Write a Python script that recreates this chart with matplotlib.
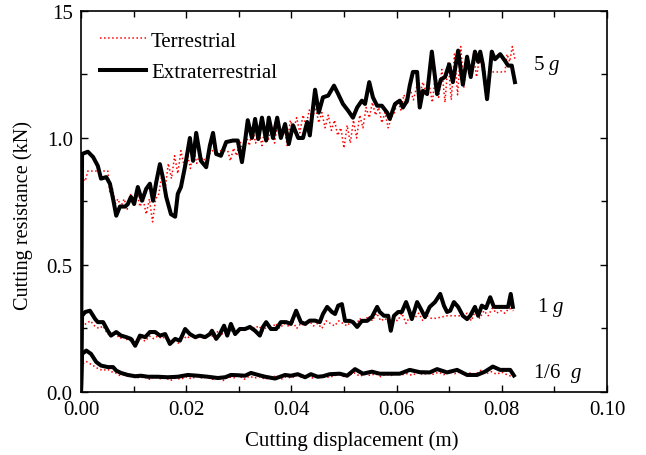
import matplotlib

matplotlib.use("Agg")
import matplotlib.pyplot as plt
from matplotlib.ticker import MultipleLocator

# Cutting displacement (m) and resistance (kN) for the three gravity levels
ext_5g_x = [0.0, 0.0002, 0.0013, 0.0023, 0.0032, 0.0038, 0.0048, 0.0055, 0.0061, 0.0067,
            0.0074, 0.0084, 0.0089, 0.0095, 0.0101, 0.0108, 0.0116, 0.0124, 0.0131, 0.0137,
            0.0143, 0.0150, 0.0156, 0.0162, 0.0171, 0.0179, 0.0184, 0.0190, 0.0198, 0.0207,
            0.0213, 0.0219, 0.0228, 0.0238, 0.0245, 0.0251, 0.0257, 0.0266, 0.0276, 0.0289,
            0.0298, 0.0306, 0.0312, 0.0317, 0.0325, 0.0331, 0.0337, 0.0344, 0.0352, 0.0357,
            0.0365, 0.0373, 0.0380, 0.0388, 0.0395, 0.0403, 0.0413, 0.0422, 0.0430, 0.0435,
            0.0445, 0.0452, 0.0460, 0.0470, 0.0481, 0.0489, 0.0498, 0.0508, 0.0517, 0.0525,
            0.0534, 0.0540, 0.0548, 0.0555, 0.0563, 0.0572, 0.0582, 0.0587, 0.0597, 0.0606,
            0.0612, 0.0620, 0.0625, 0.0631, 0.0639, 0.0644, 0.0650, 0.0658, 0.0667, 0.0677,
            0.0684, 0.0692, 0.0700, 0.0707, 0.0717, 0.0726, 0.0734, 0.0741, 0.0749, 0.0755,
            0.0759, 0.0764, 0.0772, 0.0781, 0.0787, 0.0797, 0.0806, 0.0812, 0.0819, 0.0825]
ext_5g_y = [0.0, 0.937, 0.946, 0.925, 0.89, 0.84, 0.846, 0.82, 0.76, 0.694,
            0.73, 0.73, 0.74, 0.768, 0.74, 0.807, 0.753, 0.80, 0.82, 0.753,
            0.826, 0.897, 0.84, 0.768, 0.70, 0.69, 0.78, 0.807, 0.89, 1.00,
            0.91, 1.02, 0.91, 0.885, 0.97, 1.02, 0.937, 0.93, 0.984, 0.99,
            0.99, 0.905, 0.99, 1.07, 1.00, 1.075, 0.996, 1.08, 0.99, 1.08,
            1.00, 1.08, 1.00, 1.055, 0.976, 1.05, 1.00, 1.00, 1.063, 1.01,
            1.19, 1.10, 1.16, 1.167, 1.206, 1.173, 1.134, 1.107, 1.08, 1.12,
            1.147, 1.134, 1.22, 1.16, 1.127, 1.127, 1.10, 1.075, 1.134, 1.147,
            1.12, 1.147, 1.206, 1.26, 1.26, 1.12, 1.186, 1.173, 1.34, 1.173,
            1.23, 1.24, 1.29, 1.22, 1.344, 1.21, 1.32, 1.24, 1.34, 1.30,
            1.34, 1.29, 1.153, 1.34, 1.31, 1.33, 1.304, 1.285, 1.285, 1.22]

ter_5g_x = [0.0, 0.0001, 0.0003, 0.0008, 0.0013, 0.0051, 0.0055, 0.0060, 0.0065, 0.0070,
            0.0076, 0.0082, 0.0088, 0.0094, 0.0100, 0.0106, 0.0112, 0.0118, 0.0124, 0.0130,
            0.0136, 0.0142, 0.0148, 0.0154, 0.0160, 0.0166, 0.0172, 0.0178, 0.0184, 0.0190,
            0.0196, 0.0202, 0.0208, 0.0214, 0.0220, 0.0226, 0.0232, 0.0250, 0.0279, 0.0284,
            0.0290, 0.0296, 0.0302, 0.0308, 0.0314, 0.0320, 0.0326, 0.0332, 0.0338, 0.0344,
            0.0350, 0.0356, 0.0362, 0.0368, 0.0374, 0.0380, 0.0386, 0.0392, 0.0398, 0.0404,
            0.0410, 0.0416, 0.0422, 0.0428, 0.0434, 0.0440, 0.0446, 0.0452, 0.0458, 0.0464,
            0.0470, 0.0476, 0.0482, 0.0488, 0.0494, 0.0500, 0.0506, 0.0512, 0.0518, 0.0524,
            0.0530, 0.0536, 0.0542, 0.0548, 0.0554, 0.0560, 0.0566, 0.0572, 0.0578, 0.0584,
            0.0590, 0.0596, 0.0602, 0.0608, 0.0614, 0.0620, 0.0626, 0.0632, 0.0638, 0.0644,
            0.0650, 0.0656, 0.0662, 0.0668, 0.0674, 0.0680, 0.0686, 0.0692, 0.0698, 0.0704,
            0.0710, 0.0716, 0.0722, 0.0728, 0.0734, 0.0740, 0.0746, 0.0752, 0.0758, 0.0764,
            0.0772, 0.0806, 0.0810, 0.0815, 0.0820, 0.0825]
ter_5g_y = [0.0, 0.55, 0.84, 0.83, 0.87, 0.87, 0.78, 0.80, 0.74, 0.76,
            0.73, 0.76, 0.72, 0.78, 0.74, 0.79, 0.73, 0.76, 0.70, 0.76,
            0.67, 0.76, 0.78, 0.86, 0.80, 0.90, 0.84, 0.93, 0.86, 0.95,
            0.89, 0.94, 0.88, 0.96, 0.90, 0.94, 0.91, 0.95, 0.95, 0.91,
            0.96, 0.93, 0.99, 0.95, 1.01, 0.97, 1.04, 0.98, 1.03, 0.97,
            1.04, 0.99, 1.05, 0.98, 1.06, 1.01, 1.05, 0.97, 1.07, 1.03,
            1.08, 1.02, 1.09, 1.05, 1.11, 1.08, 1.12, 1.06, 1.10, 1.04,
            1.09, 1.03, 1.07, 1.01, 1.04, 0.96, 1.05, 0.98, 1.07, 1.00,
            1.09, 1.04, 1.12, 1.08, 1.14, 1.09, 1.12, 1.06, 1.10, 1.04,
            1.08, 1.10, 1.15, 1.11, 1.17, 1.13, 1.19, 1.15, 1.20, 1.17,
            1.22, 1.18, 1.21, 1.14, 1.25, 1.16, 1.27, 1.14, 1.30, 1.15,
            1.33, 1.17, 1.36, 1.20, 1.31, 1.26, 1.33, 1.24, 1.32, 1.26,
            1.26, 1.26, 1.33, 1.30, 1.36, 1.31]

ext_1g_x = [0.0, 0.0002, 0.0008, 0.0017, 0.0027, 0.0032, 0.0042, 0.0051, 0.0057, 0.0067,
            0.0076, 0.0086, 0.0095, 0.0103, 0.0112, 0.0122, 0.0131, 0.0141, 0.0150, 0.0160,
            0.0169, 0.0179, 0.0188, 0.0198, 0.0207, 0.0217, 0.0226, 0.0236, 0.0245, 0.0249,
            0.0257, 0.0264, 0.0272, 0.0278, 0.0285, 0.0293, 0.0302, 0.0312, 0.0321, 0.0331,
            0.0340, 0.0346, 0.0352, 0.0361, 0.0371, 0.0380, 0.0390, 0.0399, 0.0409, 0.0418,
            0.0426, 0.0435, 0.0445, 0.0454, 0.0460, 0.0468, 0.0477, 0.0483, 0.0489, 0.0496,
            0.0502, 0.0511, 0.0517, 0.0525, 0.0534, 0.0544, 0.0553, 0.0563, 0.0568, 0.0576,
            0.0584, 0.0589, 0.0595, 0.0603, 0.0610, 0.0618, 0.0624, 0.0629, 0.0639, 0.0646,
            0.0654, 0.0663, 0.0673, 0.0683, 0.0690, 0.0696, 0.0702, 0.0709, 0.0717, 0.0726,
            0.0734, 0.0740, 0.0749, 0.0755, 0.0762, 0.0770, 0.0778, 0.0785, 0.0793, 0.0802,
            0.0812, 0.0817, 0.0821]
ext_1g_y = [0.0, 0.30, 0.315, 0.32, 0.287, 0.275, 0.275, 0.241, 0.222, 0.236,
            0.222, 0.216, 0.209, 0.182, 0.222, 0.216, 0.236, 0.236, 0.222, 0.228,
            0.189, 0.209, 0.202, 0.248, 0.228, 0.216, 0.222, 0.216, 0.228, 0.241,
            0.209, 0.228, 0.261, 0.222, 0.268, 0.228, 0.248, 0.248, 0.256, 0.241,
            0.222, 0.256, 0.275, 0.248, 0.248, 0.275, 0.275, 0.268, 0.32, 0.275,
            0.268, 0.281, 0.281, 0.275, 0.307, 0.335, 0.315, 0.307, 0.34, 0.346,
            0.28, 0.28, 0.275, 0.256, 0.28, 0.28, 0.295, 0.335, 0.315, 0.30,
            0.30, 0.241, 0.30, 0.315, 0.315, 0.354, 0.32, 0.287, 0.354, 0.327,
            0.295, 0.335, 0.354, 0.386, 0.34, 0.315, 0.32, 0.354, 0.335, 0.30,
            0.287, 0.30, 0.335, 0.30, 0.34, 0.33, 0.373, 0.335, 0.335, 0.335,
            0.335, 0.386, 0.335]

ter_1g_x = [0.0, 0.0001, 0.0003, 0.0010, 0.0018, 0.0026, 0.0034, 0.0042, 0.0050, 0.0058,
            0.0066, 0.0074, 0.0082, 0.0090, 0.0098, 0.0106, 0.0114, 0.0122, 0.0130, 0.0138,
            0.0146, 0.0154, 0.0162, 0.0170, 0.0178, 0.0186, 0.0194, 0.0202, 0.0210, 0.0218,
            0.0226, 0.0234, 0.0242, 0.0250, 0.0258, 0.0266, 0.0274, 0.0282, 0.0290, 0.0298,
            0.0306, 0.0314, 0.0322, 0.0330, 0.0338, 0.0346, 0.0354, 0.0362, 0.0370, 0.0378,
            0.0386, 0.0394, 0.0402, 0.0410, 0.0418, 0.0426, 0.0434, 0.0442, 0.0450, 0.0458,
            0.0466, 0.0474, 0.0482, 0.0490, 0.0498, 0.0506, 0.0514, 0.0522, 0.0530, 0.0538,
            0.0546, 0.0554, 0.0562, 0.0570, 0.0578, 0.0586, 0.0594, 0.0602, 0.0610, 0.0618,
            0.0626, 0.0634, 0.0642, 0.0650, 0.0658, 0.0666, 0.0674, 0.0696, 0.0726, 0.0734,
            0.0742, 0.0750, 0.0758, 0.0766, 0.0774, 0.0782, 0.0790, 0.0798, 0.0806, 0.0814,
            0.0822]
ter_1g_y = [0.0, 0.20, 0.26, 0.27, 0.28, 0.26, 0.25, 0.26, 0.23, 0.22,
            0.23, 0.21, 0.22, 0.20, 0.21, 0.19, 0.21, 0.20, 0.22, 0.21,
            0.22, 0.21, 0.22, 0.20, 0.21, 0.19, 0.22, 0.21, 0.23, 0.21,
            0.22, 0.21, 0.23, 0.22, 0.24, 0.22, 0.25, 0.23, 0.25, 0.24,
            0.25, 0.24, 0.26, 0.25, 0.26, 0.24, 0.26, 0.25, 0.27, 0.25,
            0.27, 0.26, 0.28, 0.25, 0.27, 0.26, 0.28, 0.26, 0.27, 0.25,
            0.28, 0.27, 0.26, 0.28, 0.27, 0.26, 0.28, 0.26, 0.29, 0.27,
            0.30, 0.28, 0.31, 0.28, 0.29, 0.27, 0.29, 0.28, 0.31, 0.27,
            0.30, 0.29, 0.31, 0.28, 0.30, 0.29, 0.29, 0.30, 0.30, 0.31,
            0.28, 0.32, 0.29, 0.32, 0.30, 0.33, 0.31, 0.32, 0.31, 0.33,
            0.32]

ext_6g_x = [0.0, 0.0002, 0.0010, 0.0019, 0.0029, 0.0038, 0.0051, 0.0061, 0.0067, 0.0076,
            0.0089, 0.0103, 0.0114, 0.0127, 0.0146, 0.0165, 0.0184, 0.0203, 0.0222, 0.0241,
            0.0260, 0.0274, 0.0285, 0.0298, 0.0312, 0.0323, 0.0337, 0.0350, 0.0369, 0.0388,
            0.0399, 0.0412, 0.0426, 0.0437, 0.0450, 0.0460, 0.0473, 0.0492, 0.0506, 0.0521,
            0.0536, 0.0553, 0.0568, 0.0587, 0.0606, 0.0625, 0.0644, 0.0663, 0.0677, 0.0696,
            0.0715, 0.0734, 0.0753, 0.0768, 0.0783, 0.0797, 0.0816, 0.0823]
ext_6g_y = [0.0, 0.15, 0.163, 0.15, 0.118, 0.104, 0.098, 0.098, 0.084, 0.075,
            0.067, 0.062, 0.064, 0.060, 0.060, 0.058, 0.060, 0.067, 0.064, 0.060,
            0.055, 0.058, 0.067, 0.066, 0.064, 0.075, 0.067, 0.060, 0.053, 0.067,
            0.064, 0.070, 0.058, 0.070, 0.060, 0.062, 0.070, 0.072, 0.064, 0.090,
            0.072, 0.080, 0.072, 0.072, 0.072, 0.087, 0.078, 0.077, 0.090, 0.077,
            0.087, 0.067, 0.067, 0.080, 0.100, 0.087, 0.087, 0.065]

ter_6g_x = [0.0, 0.0001, 0.0003, 0.0010, 0.0018, 0.0026, 0.0034, 0.0042, 0.0050, 0.0058,
            0.0066, 0.0074, 0.0082, 0.0090, 0.0100, 0.0110, 0.0120, 0.0130, 0.0140, 0.0150,
            0.0160, 0.0170, 0.0180, 0.0190, 0.0200, 0.0210, 0.0220, 0.0230, 0.0240, 0.0250,
            0.0260, 0.0270, 0.0280, 0.0290, 0.0300, 0.0310, 0.0320, 0.0330, 0.0340, 0.0350,
            0.0360, 0.0370, 0.0380, 0.0390, 0.0400, 0.0410, 0.0420, 0.0430, 0.0440, 0.0450,
            0.0460, 0.0470, 0.0480, 0.0490, 0.0500, 0.0510, 0.0520, 0.0530, 0.0540, 0.0550,
            0.0560, 0.0570, 0.0580, 0.0590, 0.0600, 0.0610, 0.0620, 0.0630, 0.0640, 0.0650,
            0.0660, 0.0670, 0.0680, 0.0690, 0.0700, 0.0710, 0.0720, 0.0730, 0.0740, 0.0750,
            0.0760, 0.0770, 0.0780, 0.0790, 0.0800, 0.0810, 0.0820]
ter_6g_y = [0.0, 0.07, 0.11, 0.12, 0.11, 0.10, 0.09, 0.085, 0.09, 0.08,
            0.075, 0.065, 0.07, 0.06, 0.065, 0.055, 0.06, 0.05, 0.06, 0.052,
            0.058, 0.045, 0.055, 0.05, 0.06, 0.052, 0.062, 0.055, 0.06, 0.05,
            0.058, 0.045, 0.06, 0.055, 0.065, 0.05, 0.062, 0.055, 0.06, 0.05,
            0.058, 0.062, 0.05, 0.06, 0.055, 0.065, 0.058, 0.062, 0.055, 0.06,
            0.065, 0.058, 0.062, 0.07, 0.06, 0.066, 0.075, 0.062, 0.07, 0.065,
            0.072, 0.06, 0.07, 0.065, 0.075, 0.068, 0.072, 0.065, 0.078, 0.068,
            0.075, 0.07, 0.078, 0.068, 0.08, 0.072, 0.078, 0.066, 0.075, 0.07,
            0.085, 0.072, 0.08, 0.07, 0.078, 0.068, 0.06]

y_ticks = [0.0, 0.5, 1.0, 1.5]
y_tick_labels = ["0.0", "0.5", "1.0", "15"]
x_ticks = [0.00, 0.02, 0.04, 0.06, 0.08, 0.10]
x_tick_labels = ["0.00", "0.02", "0.04", "0.06", "0.08", "0.10"]

plt.rcParams["font.family"] = "Liberation Serif"
plt.rcParams["mathtext.fontset"] = "custom"
plt.rcParams["mathtext.rm"] = "Liberation Serif"
plt.rcParams["mathtext.it"] = "Liberation Serif:italic"

fig = plt.figure(figsize=(6.46, 4.56), dpi=100)
ax = fig.add_axes([0.1254, 0.1382, 0.8142, 0.8355])

red_kw = dict(color="red", lw=1.1, ls=":")
blk_kw = dict(color="black", lw=2.9, solid_joinstyle="round")

ax.plot(ter_5g_x, ter_5g_y, label="Terrestrial", **red_kw)
ax.plot(ter_1g_x, ter_1g_y, **red_kw)
ax.plot(ter_6g_x, ter_6g_y, **red_kw)
ax.plot(ext_5g_x, ext_5g_y, label="Extraterrestrial", **blk_kw)
ax.plot(ext_1g_x, ext_1g_y, **blk_kw)
ax.plot(ext_6g_x, ext_6g_y, **blk_kw)

ax.set_xlim(0, 0.1)
ax.set_ylim(0, 1.5)
ax.set_xticks(x_ticks)
ax.set_xticklabels(x_tick_labels)
ax.set_yticks(y_ticks)
ax.set_yticklabels(y_tick_labels)
ax.xaxis.set_minor_locator(MultipleLocator(0.01))
ax.yaxis.set_minor_locator(MultipleLocator(0.25))
ax.tick_params(which="both", direction="in", top=True, right=True, labelsize=15, width=1.0)
ax.tick_params(which="major", length=5)
ax.tick_params(which="minor", length=4)
ax.tick_params(axis="y", pad=6)
ax.tick_params(axis="x", pad=6)
for s in ax.spines.values():
    s.set_linewidth(1.2)

ax.set_xlabel("Cutting displacement (m)", fontsize=15)
ax.set_ylabel("Cutting resistance (kN)", fontsize=14.6)
ax.xaxis.set_label_coords(0.515, -0.1)
ax.yaxis.set_label_coords(-0.092, 0.465)

ax.text(0.0859, 1.29, "5 $g$", fontsize=15, va="center")
ax.text(0.0867, 0.335, "1 $g$", fontsize=15, va="center")
ax.text(0.0859, 0.075, "1/6  $g$", fontsize=15, va="center")

ax.legend(loc="upper left", bbox_to_anchor=(0.036, 0.947), frameon=False, fontsize=15,
          handlelength=2.2, handletextpad=0.25, borderpad=0, borderaxespad=0,
          labelspacing=0.55)

fig.savefig("out.png", dpi=100)
